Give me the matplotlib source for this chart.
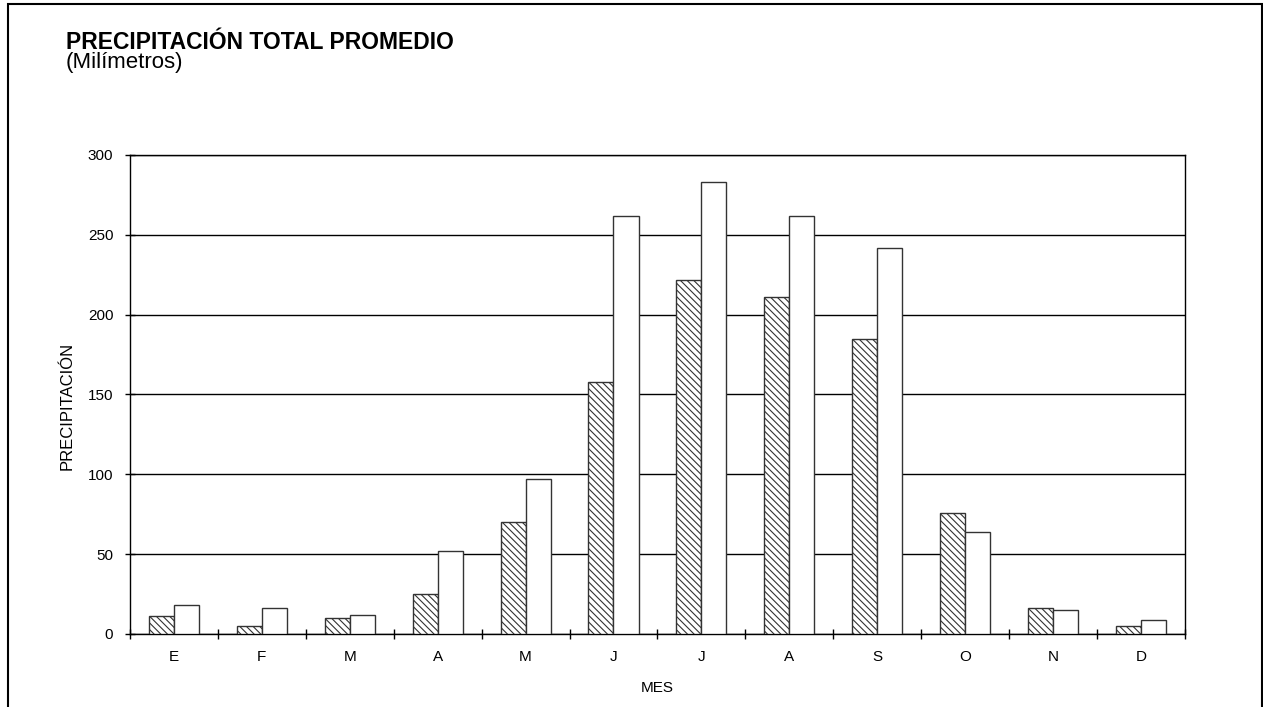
import matplotlib.pyplot as plt
import numpy as np
from matplotlib.patches import Rectangle

plt.rcParams['font.family'] = ['Liberation Sans', 'DejaVu Sans']
plt.rcParams['hatch.linewidth'] = 0.8

# datos
meses = ['E', 'F', 'M', 'A', 'M', 'J', 'J', 'A', 'S', 'O', 'N', 'D']
serie_rayada = [11, 5, 10, 25, 70, 158, 222, 211, 185, 76, 16, 5]
serie_blanca = [18, 16, 12, 52, 97, 262, 283, 262, 242, 64, 15, 9]

fig = plt.figure(figsize=(12.63, 7.07), dpi=100)
ax = fig.add_axes([0.1029, 0.1033, 0.8353, 0.6775])

x = np.arange(len(meses))
w = 0.285
ax.bar(x - w / 2, serie_rayada, width=w, color='white', edgecolor='#333333',
       linewidth=1.0, hatch='\\' * 5, zorder=3)
ax.bar(x + w / 2, serie_blanca, width=w, color='white', edgecolor='#333333',
       linewidth=1.0, zorder=3)

ax.set_xlim(-0.5, len(meses) - 0.5)
ax.set_ylim(0, 300)
ax.set_yticks(range(0, 301, 50))
ax.yaxis.grid(True, color='black', linewidth=1.0)
ax.set_axisbelow(True)

# marcas entre categorias, etiquetas al centro
ax.set_xticks(np.arange(len(meses) + 1) - 0.5)
ax.set_xticklabels([])
ax.set_xticks(x, minor=True)
ax.set_xticklabels(meses, minor=True, fontsize=11)
ax.tick_params(axis='x', which='minor', length=0, pad=11.5)
ax.tick_params(axis='x', which='major', direction='inout', length=7, width=1)
ax.tick_params(axis='y', direction='inout', length=7, width=1, labelsize=11, pad=8.5)

for s in ax.spines.values():
    s.set_linewidth(1.0)
    s.set_color('black')

ax.set_xlabel('MES', fontsize=11, labelpad=12)
ax.set_ylabel('PRECIPITACIÓN', fontsize=12)
ax.yaxis.set_label_coords(-0.052, 0.476)

fig.text(0.0523, 0.930, 'PRECIPITACIÓN TOTAL PROMEDIO', fontsize=16.5,
         fontweight='bold', va='baseline')
fig.text(0.0523, 0.9035, '(Milímetros)', fontsize=16, va='baseline')

# marco exterior
fig.add_artist(Rectangle((8 / 1263, -0.05), (1262 - 8) / 1263, 1.05 - 4 / 707,
                         transform=fig.transFigure, fill=False,
                         edgecolor='black', linewidth=1.5))

plt.savefig('out.png', format='png')
